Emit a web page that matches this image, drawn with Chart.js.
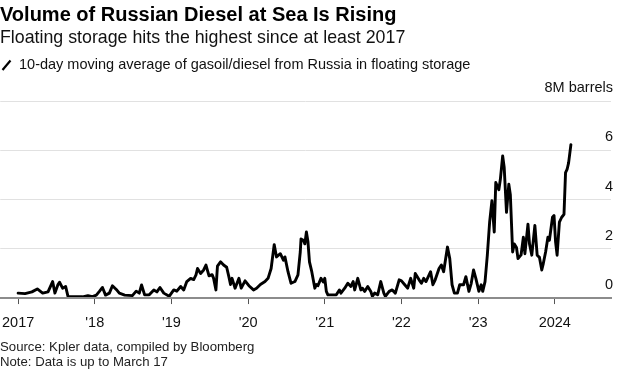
<!DOCTYPE html>
<html>
<head>
<meta charset="utf-8">
<script src="https://cdn.jsdelivr.net/npm/chart.js@4.4.1/dist/chart.umd.min.js"></script>
<style>
  html, body { margin: 0; padding: 0; background: #fff; }
  body { width: 618px; height: 370px; position: relative; overflow: hidden;
         font-family: "Liberation Sans", Arial, sans-serif; color: #111; }
  .txt { position: absolute; left: 0; line-height: 1; white-space: nowrap; }
  #title { top: 4px; font-size: 20px; font-weight: bold; color: #000; }
  #sub { top: 29.3px; font-size: 17.8px; }
  #legend { top: 56.7px; left: 19px; font-size: 14.5px; }
  #icon { position: absolute; left: 1px; top: 59px; }
  #source { top: 340px; font-size: 13.2px; color: #222; }
  #note { top: 355px; font-size: 13.2px; color: #222; }
  #wrap { position: absolute; left: 0; top: 0; width: 618px; height: 370px; }
</style>
</head>
<body>
<div id="wrap"><canvas id="chart" width="618" height="370"></canvas></div>
<div class="txt" id="title">Volume of Russian Diesel at Sea Is Rising</div>
<div class="txt" id="sub">Floating storage hits the highest since at least 2017</div>
<svg id="icon" width="11" height="12"><line x1="1.5" y1="11" x2="9.5" y2="1.5" stroke="#000" stroke-width="2.2"/></svg>
<div class="txt" id="legend">10-day moving average of gasoil/diesel from Russia in floating storage</div>
<div class="txt" id="source">Source: Kpler data, compiled by Bloomberg</div>
<div class="txt" id="note">Note: Data is up to March 17</div>

<script>
// dates as decimal years
const dates = [
  2017.00, 2017.09, 2017.18, 2017.25, 2017.32, 2017.39, 2017.45, 2017.48, 2017.52, 2017.54, 2017.58, 2017.62, 2017.65, 2017.74, 2017.84, 2017.91, 2017.97,
  2018.02, 2018.06, 2018.10, 2018.14, 2018.19, 2018.23, 2018.28, 2018.32, 2018.39, 2018.49, 2018.54, 2018.58, 2018.61, 2018.65, 2018.71, 2018.77, 2018.81, 2018.85, 2018.90, 2018.97,
  2019.03, 2019.07, 2019.12, 2019.16, 2019.20, 2019.25, 2019.29, 2019.32, 2019.34, 2019.38, 2019.42, 2019.45, 2019.49, 2019.53, 2019.55, 2019.58, 2019.60, 2019.64, 2019.68, 2019.72, 2019.75, 2019.77, 2019.79, 2019.83, 2019.88, 2019.91, 2019.96,
  2020.01, 2020.07, 2020.11, 2020.16, 2020.22, 2020.26, 2020.30, 2020.34, 2020.37, 2020.42, 2020.46, 2020.48, 2020.52, 2020.56, 2020.61, 2020.65, 2020.68, 2020.69, 2020.72, 2020.74, 2020.76, 2020.78, 2020.80, 2020.83, 2020.87, 2020.89, 2020.91, 2020.95, 2020.98,
  2021.00, 2021.02, 2021.04, 2021.08, 2021.15, 2021.19, 2021.21, 2021.26, 2021.30, 2021.34, 2021.37, 2021.39, 2021.43, 2021.47, 2021.49, 2021.52, 2021.56, 2021.60, 2021.62, 2021.65, 2021.69, 2021.73, 2021.77, 2021.79, 2021.84, 2021.88, 2021.92, 2021.97,
  2022.00, 2022.04, 2022.08, 2022.12, 2022.16, 2022.18, 2022.23, 2022.26, 2022.29, 2022.32, 2022.38, 2022.41, 2022.44, 2022.49, 2022.52, 2022.55, 2022.60, 2022.63, 2022.66, 2022.69, 2022.73, 2022.76, 2022.81, 2022.84, 2022.88, 2022.91, 2022.94, 2022.97,
  2023.01, 2023.04, 2023.06, 2023.09, 2023.12, 2023.15, 2023.18, 2023.21, 2023.23, 2023.27, 2023.29, 2023.32, 2023.34, 2023.37, 2023.40, 2023.42, 2023.45, 2023.47, 2023.50, 2023.52, 2023.56, 2023.59, 2023.61, 2023.65, 2023.67, 2023.70, 2023.74, 2023.77, 2023.80, 2023.83, 2023.85, 2023.88, 2023.91, 2023.93, 2023.97, 2023.99,
  2024.01, 2024.03, 2024.06, 2024.09, 2024.12, 2024.14, 2024.16, 2024.18, 2024.21
];

// million barrels in floating storage (10-day moving average)
const barrels = [
  0.2, 0.18, 0.25, 0.37, 0.2, 0.25, 0.67, 0.2, 0.55, 0.64, 0.4, 0.47, 0.07, 0.05, 0.05, 0.1, 0.06,
  0.12, 0.27, 0.43, 0.12, 0.2, 0.5, 0.35, 0.2, 0.12, 0.1, 0.28, 0.2, 0.53, 0.13, 0.13, 0.33, 0.25, 0.43, 0.2, 0.07,
  0.33, 0.28, 0.47, 0.33, 0.67, 0.8, 0.75, 0.94, 1.2, 1.0, 1.14, 1.34, 0.9, 0.95, 0.8, 0.33, 1.3, 1.47, 1.34, 1.25, 0.85, 0.55, 0.8, 0.4, 0.8, 0.4, 0.7,
  0.5, 0.33, 0.4, 0.55, 0.67, 0.8, 1.2, 2.17, 1.67, 1.8, 1.54, 1.67, 1.07, 0.6, 0.67, 0.94, 1.87, 2.4, 2.35, 2.2, 2.68, 2.3, 1.47, 1.07, 0.4, 0.55, 0.5, 0.8, 0.65,
  0.8, 0.27, 0.13, 0.13, 0.13, 0.33, 0.2, 0.4, 0.6, 0.47, 0.67, 0.33, 0.8, 0.33, 0.4, 0.27, 0.47, 0.27, 0.07, 0.2, 0.13, 0.67, 0.2, 0.07, 0.27, 0.33, 0.2, 0.74,
  0.7, 0.55, 0.4, 0.8, 0.4, 1.0, 0.74, 0.6, 0.8, 0.67, 1.07, 0.54, 0.74, 1.2, 1.34, 1.07, 2.07, 1.6, 0.54, 0.2, 0.2, 0.54, 0.54, 0.87, 0.27, 0.6, 1.14, 0.8,
  0.27, 0.54, 0.27, 0.67, 1.74, 3.08, 3.95, 2.68, 4.69, 4.4, 4.82, 5.77, 5.3, 3.48, 4.62, 4.2, 1.87, 2.2, 2.05, 1.6, 1.75, 2.47, 1.8, 3.0, 2.2, 1.74, 2.95, 1.74, 1.65, 1.14, 1.4, 1.87, 2.47, 2.35, 3.28, 3.35,
  2.28, 1.74, 3.08, 3.28, 3.4, 5.09, 5.22, 5.49, 6.23
];

const xTicks = [2017, 2018, 2019, 2020, 2021, 2022, 2023, 2024];
const xTickLabels = ["2017", "'18", "'19", "'20", "'21", "'22", "'23", "2024"];
const yTicks = [0, 2, 4, 6, 8];
const yUnit = "M barrels";

const points = dates.map((d, i) => ({ x: d, y: barrels[i] }));

new Chart(document.getElementById("chart"), {
  type: "line",
  data: {
    datasets: [{
      data: points,
      borderColor: "#000",
      borderWidth: 2.9,
      pointRadius: 0,
      tension: 0,
      borderJoinStyle: "round",
      borderCapStyle: "round"
    }]
  },
  options: {
    responsive: false,
    animation: false,
    layout: { padding: { top: 101, right: 3, left: 0, bottom: 28.6 } },
    plugins: { legend: { display: false }, tooltip: { enabled: false } },
    scales: {
      x: {
        type: "linear",
        min: 2016.767,
        max: 2024.733,
        afterBuildTicks: (s) => { s.ticks = xTicks.map(v => ({ value: v })); },
        grid: { drawOnChartArea: false, drawTicks: true, tickLength: 6, color: "#555", lineWidth: 1 },
        border: { display: true, color: "#8c8c8c", width: 2, z: 1 },
        ticks: {
          padding: 2,
          color: "#111",
          font: { family: "'Liberation Sans', Arial, sans-serif", size: 14.5, lineHeight: 2.3 },
          maxRotation: 0,
          autoSkip: false,
          callback: (v) => xTickLabels[xTicks.indexOf(v)]
        }
      },
      y: {
        position: "right",
        min: 0,
        max: 8,
        afterBuildTicks: (s) => { s.ticks = yTicks.map(v => ({ value: v })); },
        grid: {
          drawTicks: false,
          color: (c) => c.tick && c.tick.value === 0 ? "rgba(0,0,0,0)" : "#e1e1e1",
          lineWidth: 1
        },
        border: { display: false },
        ticks: {
          mirror: true,
          padding: 2,
          labelOffset: -13,
          color: "#111",
          font: { family: "'Liberation Sans', Arial, sans-serif", size: 14.5 },
          callback: (v) => v === 8 ? v + yUnit : String(v)
        }
      }
    }
  }
});
</script>
</body>
</html>
